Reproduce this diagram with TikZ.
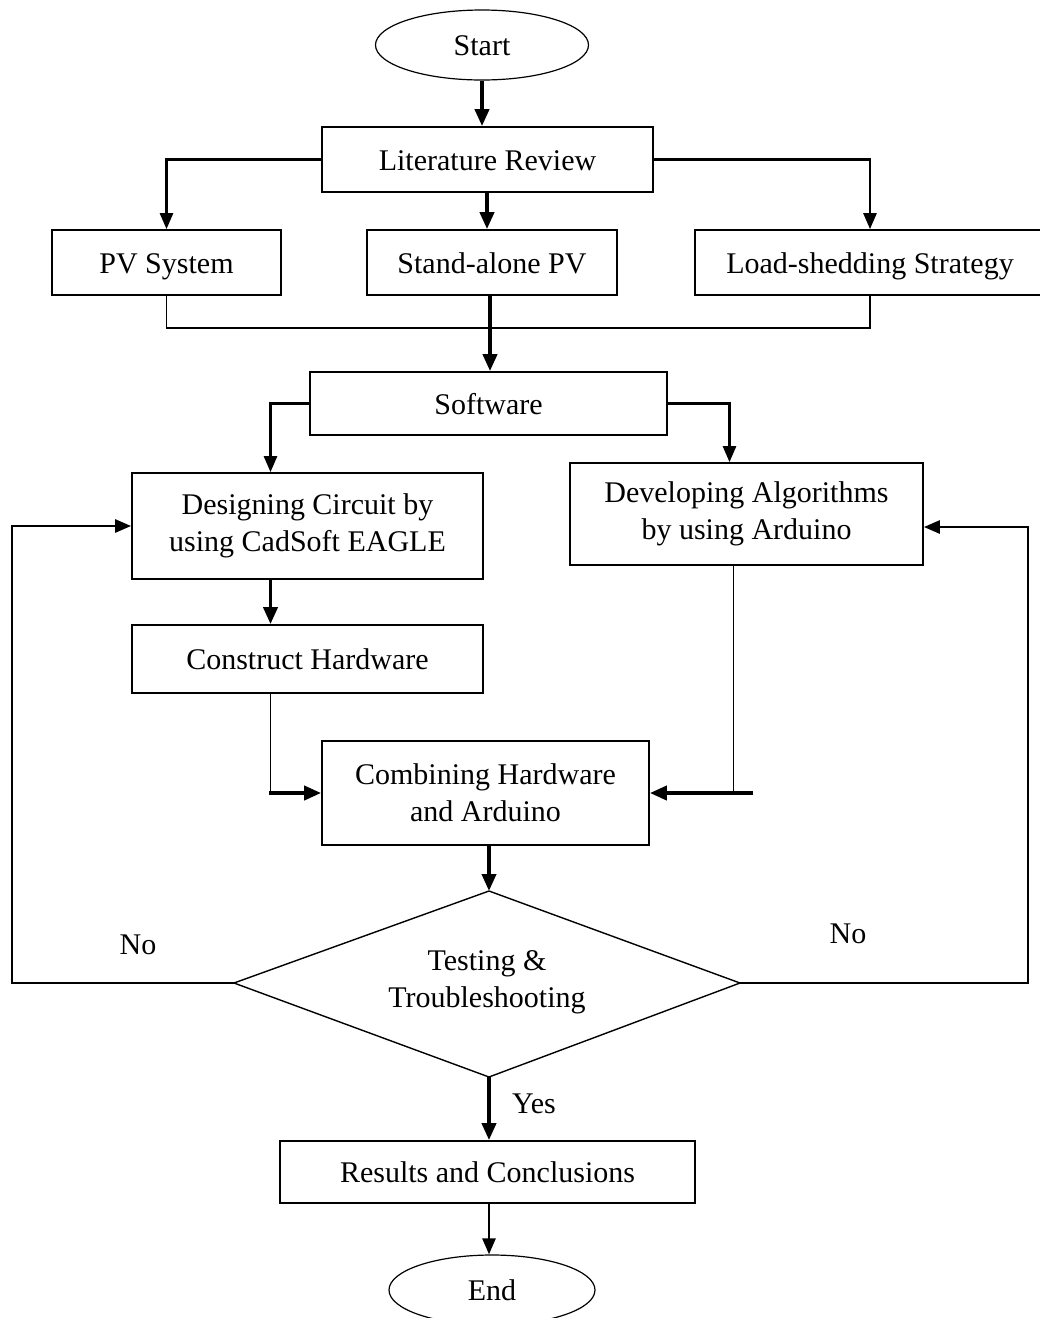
\documentclass[tikz,border=0pt]{standalone}
\usepackage{fontspec}
\setmainfont{Liberation Serif}
\usetikzlibrary{arrows.meta,shapes.geometric}
\begin{document}
\begin{tikzpicture}[x=1pt,y=-1pt,
  txt/.style={font=\fontsize{30}{37}\selectfont},
  box/.style={txt,draw,line width=1.7pt,inner sep=0pt,align=center},
  oneline/.style={text height=24pt,text depth=3pt},
  oval/.style={txt,draw,ellipse,line width=1.2pt,inner sep=0pt,text height=24pt,text depth=3pt},
  thk/.style={line width=3.8pt,-{Triangle[length=17pt,width=14pt]}},
  arr/.style={line width=2.6pt,-{Triangle[length=16pt,width=13pt]}},
  thn/.style={line width=1.5pt}]
\clip (0,0) rectangle (1040,1318);
\useasboundingbox (0,0) rectangle (1040,1318);
\fill[white] (0,0) rectangle (1040,1318);

% nodes
\node[oval,minimum width=213pt,minimum height=70pt] (start) at (482,45) {Start};
\node[box,oneline,minimum width=331pt,minimum height=65pt] (lit) at (487.5,159.5) {Literature Review};
\node[box,oneline,minimum width=229pt,minimum height=65pt] (pv) at (166.5,262.5) {PV System};
\node[box,oneline,minimum width=250pt,minimum height=65pt] (sa) at (492,262.5) {Stand-alone PV};
\node[box,oneline,minimum width=350pt,minimum height=65pt] (ls) at (870,262.5) {Load-shedding Strategy};
\node[box,oneline,minimum width=357pt,minimum height=63pt] (sw) at (488.5,403.5) {Software};
\node[box,minimum width=351pt,minimum height=106pt] (des) at (307.5,526) {Designing Circuit by\\using CadSoft EAGLE};
\node[box,minimum width=353pt,minimum height=102pt] (dev) at (746.5,514) {Developing Algorithms\\by using Arduino};
\node[box,oneline,minimum width=351pt,minimum height=68pt] (con) at (307.5,659) {Construct Hardware};
\node[box,minimum width=327pt,minimum height=104pt] (comb) at (485.5,793) {Combining Hardware\\and Arduino};
\coordinate (dtop) at (489,891);
\coordinate (dleft) at (234,983);
\coordinate (dright) at (740,983);
\coordinate (dbot) at (489,1077);
\draw[line width=1.4pt] (dtop) -- (dright) -- (dbot) -- (dleft) -- cycle;
\node[txt,align=center] (test) at (487,982) {Testing \&\\Troubleshooting};
\node[box,oneline,minimum width=415pt,minimum height=62pt] (res) at (487.5,1172) {Results and Conclusions};
\node[oval,minimum width=206pt,minimum height=70pt] (end) at (492,1290) {End};

% labels
\node[txt] (no1) at (138,945) {No};
\node[txt] (no2) at (848,934) {No};
\node[txt] (yes) at (534,1104) {Yes};

% connectors
\draw[thk] (start.south) -- (start.south |- lit.north);
\draw[arr] (lit.west) -| (pv.north);
\draw[thk] ([xshift=-5pt]lit.south -| sa.north) -- ([xshift=-5pt]sa.north);
\draw[arr] (lit.east) -| (ls.north);
\draw[thn] (pv.south) -- ++(0,32) -| (ls.south);
\draw[thk] ([xshift=-2pt]sa.south) -- ([xshift=-2pt]sa.south |- sw.north);
\draw[arr] (sw.west) -| ([xshift=-37pt]des.north);
\draw[arr] (sw.east) -| ([xshift=-17pt]dev.north);
\draw[thk] ([xshift=-37pt]des.south) -- ([xshift=-37pt]con.north);
\draw[thn] ([xshift=-37pt]con.south) -- ([xshift=-37pt]con.south |- comb.west);
\draw[thk] ([xshift=-39pt]con.south |- comb.west) -- (comb.west);
\draw[thn] ([xshift=-13pt]dev.south) -- ([xshift=-13pt]dev.south |- comb.east);
\draw[thk] ([xshift=6pt]dev.south |- comb.east) -- (comb.east);
\draw[thk] (comb.south -| dtop) -- (dtop);
\coordinate (lc) at (12,983);
\coordinate (rc) at (1028,983);
\draw[thn] (dleft) -- (lc) -- (lc |- des.west);
\draw[arr] ([xshift=-0.75pt]lc |- des.west) -- (des.west);
\draw[thn] (dright) -- (rc) -- ([yshift=-13pt]rc |- dev.east);
\draw[arr] ([xshift=0.75pt,yshift=-13pt]rc |- dev.east) -- ([yshift=-13pt]dev.east);
\draw[thk] (dbot) -- (dbot |- res.north);
\draw[arr] (res.south -| dbot) -- (dbot |- end.north);
\end{tikzpicture}
\end{document}
